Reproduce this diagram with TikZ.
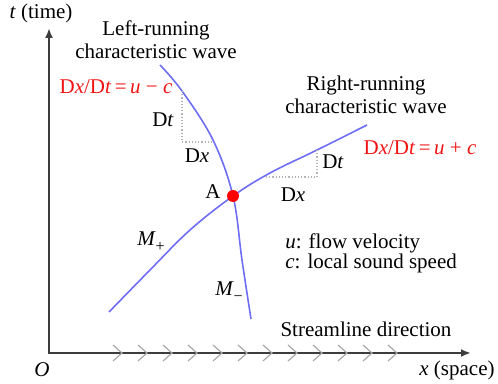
\documentclass[tikz,border=0pt]{standalone}
\usepackage{fontspec}
\setmainfont{Liberation Serif}
\usepackage{tikz}
\usetikzlibrary{arrows.meta}
\definecolor{waveBlue}{HTML}{6E6EF5}
\definecolor{eqRed}{HTML}{F01414}
\definecolor{axisGray}{HTML}{3C3C3C}
\definecolor{chevGray}{HTML}{A8A8A8}
\definecolor{guideGray}{HTML}{B4B4B4}
\newcommand{\lowsub}[1]{\raisebox{-0.6ex}{\footnotesize #1}}

\begin{document}
\begin{tikzpicture}[
    x=0.5pt, y=-0.5pt,
    font=\fontsize{10.5}{11.5}\selectfont,
    axis/.style={{Latex[length=5pt,width=4pt]}-{Latex[length=5pt,width=4pt]},draw=axisGray,line width=1pt},
    wave/.style={draw=waveBlue,line width=0.8pt},
    guide/.style={draw=guideGray,densely dotted,line width=0.6pt},
    chevron/.style={draw=chevGray,line width=0.6pt},
    lbl/.style={align=center,inner sep=0pt},
    eq/.style={text=eqRed,inner sep=0pt}
  ]
    \useasboundingbox (0,0) rectangle (498,384);
    % axes
    \coordinate (O) at (49,353);
    \coordinate (ytip) at (49,28);
    \coordinate (xtip) at (471,353);
    \draw[axis] (ytip) -- (O) -- (xtip);
    \node[lbl] (tlab) at (41,13) {\textit{t} (time)};
    \node[lbl] (olab) at (42,370) {\textit{O}};
    \node[lbl] (xlab) at (457,370) {\textit{x} (space)};
    % streamline chevrons
    \foreach \i in {0,...,11}
      \draw[chevron] ({113+25*\i},345) -- ++(9,8) -- ++(-9,8);
    \node[lbl] (stream) at (366,329) {Streamline direction};
    % characteristics through A
    \coordinate (A) at (233,196);
    \draw[wave] plot[smooth,tension=0.6] coordinates
      {(160,65) (182,91) (213,140) (233,196) (242,260) (251,319)};
    \draw[wave] plot[smooth,tension=0.6] coordinates
      {(109,312) (150,270) (190,230) (233,196) (270,173) (317,150) (367,125)};
    \fill[red] (A) circle (3pt);
    \node[lbl] (alab) at (213,192) {A};
    \node[lbl] (mplus) at (151,242) {\textit{M}\lowsub{+}};
    \node[lbl] (mminus) at (229,292) {\textit{M}\lowsub{−}};
    % slope triangles
    \draw[guide] (182,91) -- (182,142) -- (213,142);
    \draw[guide] (266,177) -- (317,177) -- (317,150);
    \node[lbl] (dtl) at (163,120) {D\textit{t}};
    \node[lbl] (dxl) at (197,156) {D\textit{x}};
    \node[lbl] (dtr) at (333,162) {D\textit{t}};
    \node[lbl] (dxr) at (293,195) {D\textit{x}};
    % wave labels
    \node[lbl] (left) at (156,40) {Left-running\\characteristic wave};
    \node[lbl] (right) at (366,95) {Right-running\\characteristic wave};
    \node[eq] (eqleft) at (116,87) {D\textit{x}/D\textit{t}\,=\,\textit{u} − \textit{c}};
    \node[eq] (eqright) at (420,148) {D\textit{x}/D\textit{t}\,=\,\textit{u} + \textit{c}};
    \node[lbl,align=left,anchor=west,font=\fontsize{10.5}{10}\selectfont] (legend) at (285,253)
      {\textit{u}: flow velocity\\\textit{c}: local sound speed};
  \end{tikzpicture}
\end{document}
